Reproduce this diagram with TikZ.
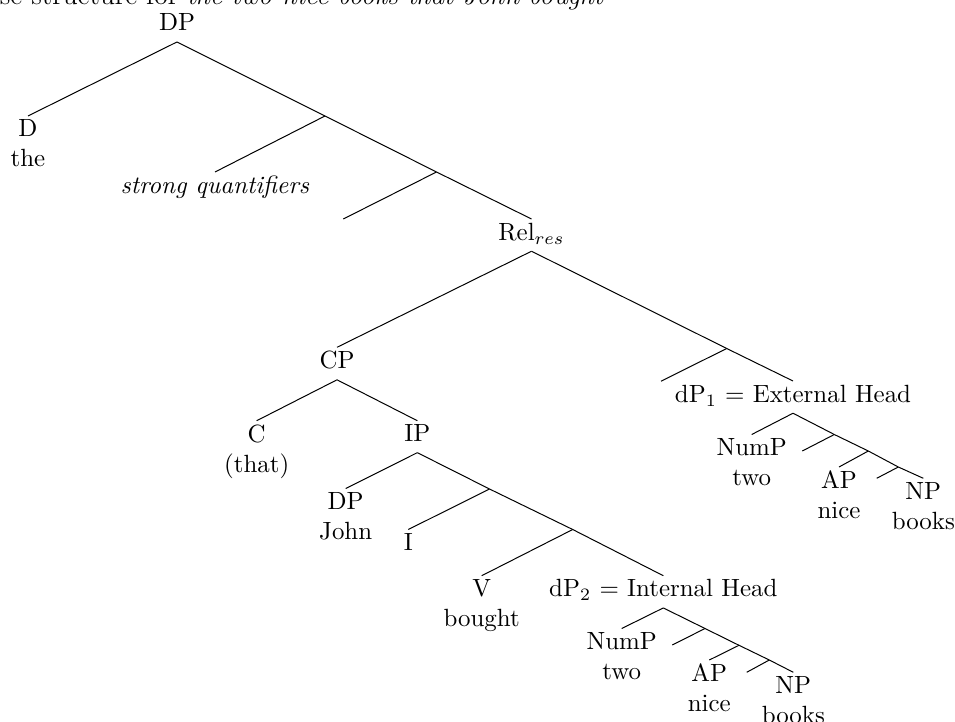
\documentclass[tikz,border=0pt]{standalone}
\begin{document}
\begin{tikzpicture}[x=0.4015pt,y=-0.4015pt,
  leaf/.style={anchor=north,align=center,inner xsep=0pt,inner ysep=1.6pt,outer sep=0pt},
  phrase/.style={anchor=north,inner xsep=0pt,inner ysep=1.6pt,text depth=2.8pt,outer sep=0pt},
  branch/.style={line width=0.4pt}]
\useasboundingbox (0,0) rectangle (955,722);

% caption line, running off the top edge
\node[anchor=base west,inner sep=0pt,font=\fontsize{11}{13.6}\selectfont] (cap) at (-33,5)
  {Base structure for \textit{the two nice books that John bought}};

% upper spine
\node[phrase,anchor=base] (dp) at (177,31) {DP};
\node[leaf] (d) at (28,116) {D\\the};
\coordinate (e1) at (325,116);
\node[leaf] (sq) at (215,172) {\textit{strong quantifiers}};
\coordinate (e2) at (436.5,172);
\coordinate (e2x) at (343.3,219);
\node[phrase] (rel) at (531.5,219) {Rel$_{res}$};

% external head
\coordinate (e3) at (726.7,348.5);
\coordinate (e3x) at (661,381.2);
\node[phrase] (dpa) at (793,381) {dP$_1$ = External Head};
\node[leaf] (numa) at (751.7,434.5) {NumP\\two};
\coordinate (e4) at (834.3,434.5);
\coordinate (e4x) at (802.3,451);
\coordinate (e5) at (868.3,451);
\node[leaf] (apa) at (839,467) {AP\\nice};
\coordinate (e6) at (898.3,467);
\coordinate (e6x) at (876.7,478.3);
\node[leaf] (npa) at (923.3,478.3) {NP\\books};

% relative clause
\node[phrase] (cp) at (337,347.3) {CP};
\node[leaf] (c) at (256.7,420.7) {C\\(that)};
\node[phrase] (ip) at (417.3,420.7) {IP};
\node[leaf] (dpj) at (345.7,488.5) {DP\\John};
\coordinate (e10) at (489.5,489);
\node[leaf] (i) at (408.3,529.5) {I};
\coordinate (e11) at (572.7,529.5);
\node[leaf] (v) at (481.7,575.7) {V\\bought};
\node[phrase] (dpb) at (663.3,575.7) {dP$_2$ = Internal Head};

% internal head
\node[leaf] (numb) at (621.7,628.5) {NumP\\two};
\coordinate (e7) at (705,628.5);
\coordinate (e7x) at (672.3,645);
\coordinate (e8) at (739,645.3);
\node[leaf] (apb) at (709.3,660) {AP\\nice};
\coordinate (e9) at (769.3,660);
\coordinate (e9x) at (746.7,672.3);
\node[leaf] (npb) at (793.3,672.3) {NP\\books};

% branches
\draw[branch] (dp.south) -- (d.north);
\draw[branch] (dp.south) -- (e1);
\draw[branch] (e1) -- (sq.north);
\draw[branch] (e1) -- (e2);
\draw[branch] (e2) -- (e2x);
\draw[branch] (e2) -- (rel.north);
\draw[branch] (rel.south) -- (cp.north);
\draw[branch] (rel.south) -- (e3);
\draw[branch] (e3) -- (e3x);
\draw[branch] (e3) -- (dpa.north);
\draw[branch] (dpa.south) -- (numa.north);
\draw[branch] (dpa.south) -- (e4);
\draw[branch] (e4) -- (e4x);
\draw[branch] (e4) -- (e5);
\draw[branch] (e5) -- (apa.north);
\draw[branch] (e5) -- (e6);
\draw[branch] (e6) -- (e6x);
\draw[branch] (e6) -- (npa.north);
\draw[branch] (cp.south) -- (c.north);
\draw[branch] (cp.south) -- (ip.north);
\draw[branch] (ip.south) -- (dpj.north);
\draw[branch] (ip.south) -- (e10);
\draw[branch] (e10) -- (i.north);
\draw[branch] (e10) -- (e11);
\draw[branch] (e11) -- (v.north);
\draw[branch] (e11) -- (dpb.north);
\draw[branch] (dpb.south) -- (numb.north);
\draw[branch] (dpb.south) -- (e7);
\draw[branch] (e7) -- (e7x);
\draw[branch] (e7) -- (e8);
\draw[branch] (e8) -- (apb.north);
\draw[branch] (e8) -- (e9);
\draw[branch] (e9) -- (e9x);
\draw[branch] (e9) -- (npb.north);
\end{tikzpicture}
\end{document}
